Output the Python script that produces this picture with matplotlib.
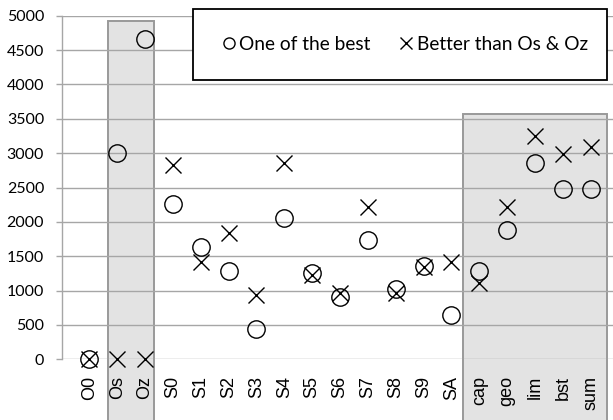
import numpy as np
import matplotlib
matplotlib.use("Agg")
import matplotlib.pyplot as plt
from matplotlib.patches import Rectangle
from matplotlib.lines import Line2D

# categories along the x axis
labels = ["O0", "Os", "Oz", "S0", "S1", "S2", "S3", "S4", "S5", "S6",
          "S7", "S8", "S9", "SA", "cap", "geo", "lim", "bst", "sum"]

# "One of the best" (circles)
best = [10, 3000, 4660, 2260, 1630, 1290, 440, 2055, 1260, 910,
        1740, 1030, 1355, 645, 1290, 1885, 2855, 2480, 2480]

# "Better than Os & Oz" (crosses)
better = [10, 0, 0, 2830, 1420, 1840, 930, 2855, 1230, 960,
          2210, 965, 1350, 1420, 1105, 2215, 3245, 2990, 3090]

yticks = [0, 500, 1000, 1500, 2000, 2500, 3000, 3500, 4000, 4500, 5000]

W, H = 613, 420
fig = plt.figure(figsize=(W / 100, H / 100), dpi=100)
ax = fig.add_axes([61.5 / W, (H - 359.3) / H, 1 - 61.5 / W, (359.3 - 15.7) / H])

x = np.arange(1, len(labels) + 1)

# shaded groups, they run down past the axis behind the labels
grey = "#e3e3e3"
edge = "#999999"
ax.add_patch(Rectangle((1.66, -900), 3.33 - 1.66, 4930 + 900, facecolor=grey,
                       edgecolor=edge, lw=1.4, clip_on=False, zorder=0.3))
ax.add_patch(Rectangle((14.41, -900), 19.58 - 14.41, 3575 + 900, facecolor=grey,
                       edgecolor=edge, lw=1.4, clip_on=False, zorder=0.3))

ax.plot(x, best, linestyle="none", marker="o", markersize=12.5,
        markerfacecolor="none", markeredgecolor="black", markeredgewidth=1.0,
        zorder=3, clip_on=False)
ax.plot(x, better, linestyle="none", marker="x", markersize=12,
        color="black", markeredgewidth=1.0, zorder=3, clip_on=False)

ax.set_xlim(0, 19.8)
ax.set_ylim(0, 5000)
ax.set_yticks(yticks)
ax.set_yticklabels([str(v) for v in yticks], fontfamily="Lato", fontsize=11.5)
ax.set_xticks(x)
ax.set_xticklabels(labels, rotation=90, fontfamily="Liberation Sans",
                   fontsize=13, va="top", ha="center")

ax.set_axisbelow(True)
ax.grid(axis="y", color="#a6a6a6", lw=1.0)
for s in ["top", "right", "bottom"]:
    ax.spines[s].set_visible(False)
ax.spines["left"].set_color("#a6a6a6")
ax.spines["left"].set_linewidth(1.0)
ax.tick_params(axis="y", length=4.5, color="#a6a6a6", width=1.0, pad=8)
ax.tick_params(axis="x", length=0, pad=12)

# legend box
fig.patches.append(Rectangle((192.7 / W, (H - 80) / H), (606.7 - 192.7) / W, 71 / H,
                             transform=fig.transFigure, facecolor="white",
                             edgecolor="black", lw=1.3, zorder=5))
handles = [
    Line2D([], [], linestyle="none", marker="o", markersize=8,
           markerfacecolor="none", markeredgecolor="black", markeredgewidth=1.0),
    Line2D([], [], linestyle="none", marker="x", markersize=8,
           color="black", markeredgewidth=1.0),
]
leg = fig.legend(handles, ["One of the best", "Better than Os & Oz"], ncol=2,
                 loc="center", bbox_to_anchor=(405 / W, (H - 44.5) / H),
                 frameon=False, prop={"family": "Lato", "size": 13.8},
                 handlelength=0.7, handletextpad=0.2, columnspacing=1.5)
leg.set_zorder(6)

fig.savefig("out.png", dpi=100)
